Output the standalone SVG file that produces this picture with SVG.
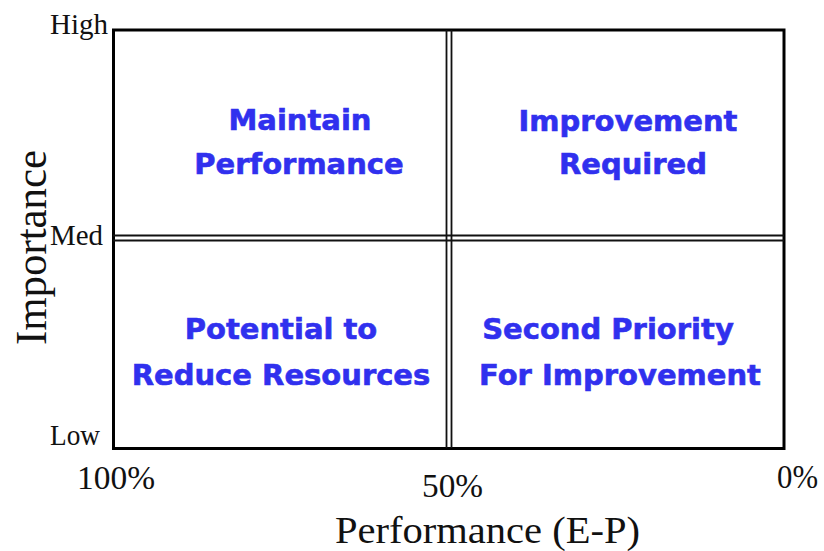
<svg xmlns="http://www.w3.org/2000/svg" width="824" height="551" viewBox="0 0 824 551">
<style>
.ax{font-family:"Liberation Serif","Times New Roman",serif;fill:#111}
.q{font-family:"DejaVu Sans",Verdana,sans-serif;font-weight:bold;font-size:29px;fill:#3030ee;stroke:#3030ee;stroke-width:0.6;text-anchor:middle}
.dl{stroke:#111;stroke-width:1.8;fill:none}
</style>
<rect width="824" height="551" fill="#fff"/>
<g id="frame">
<rect x="113.5" y="30" width="670.5" height="418.5" fill="none" stroke="#000" stroke-width="3"/>
</g>
<g id="connectors">
<line class="dl" x1="446.5" y1="30" x2="446.5" y2="448"/>
<line class="dl" x1="451.5" y1="30" x2="451.5" y2="448"/>
<line class="dl" x1="113" y1="235.5" x2="784" y2="235.5"/>
<line class="dl" x1="113" y1="240.5" x2="784" y2="240.5"/>
</g>
<g id="q-maintain">
<text class="q" x="300" y="130">Maintain</text>
<text class="q" x="299" y="174">Performance</text>
</g>
<g id="q-improve">
<text class="q" x="628" y="131">Improvement</text>
<text class="q" x="633" y="174">Required</text>
</g>
<g id="q-reduce">
<text class="q" x="281" y="339">Potential to</text>
<text class="q" x="281" y="385">Reduce Resources</text>
</g>
<g id="q-second">
<text class="q" x="608" y="339">Second Priority</text>
<text class="q" x="620" y="385">For Improvement</text>
</g>
<g id="axis-labels">
<text class="ax" x="50" y="34" font-size="29" textLength="58" lengthAdjust="spacingAndGlyphs">High</text>
<text class="ax" x="50" y="245" font-size="29" textLength="53" lengthAdjust="spacingAndGlyphs">Med</text>
<text class="ax" x="50" y="445" font-size="29" textLength="50" lengthAdjust="spacingAndGlyphs">Low</text>
<text class="ax" x="77" y="489" font-size="33" textLength="78" lengthAdjust="spacingAndGlyphs">100%</text>
<text class="ax" x="422" y="497" font-size="33" textLength="61" lengthAdjust="spacingAndGlyphs">50%</text>
<text class="ax" x="777" y="488" font-size="33" textLength="41" lengthAdjust="spacingAndGlyphs">0%</text>
<text class="ax" x="335" y="543" font-size="37" textLength="305" lengthAdjust="spacingAndGlyphs">Performance (E-P)</text>
<text class="ax" transform="translate(46,345) rotate(-90)" x="0" y="0" font-size="44" textLength="195" lengthAdjust="spacingAndGlyphs">Importance</text>
</g>
</svg>
